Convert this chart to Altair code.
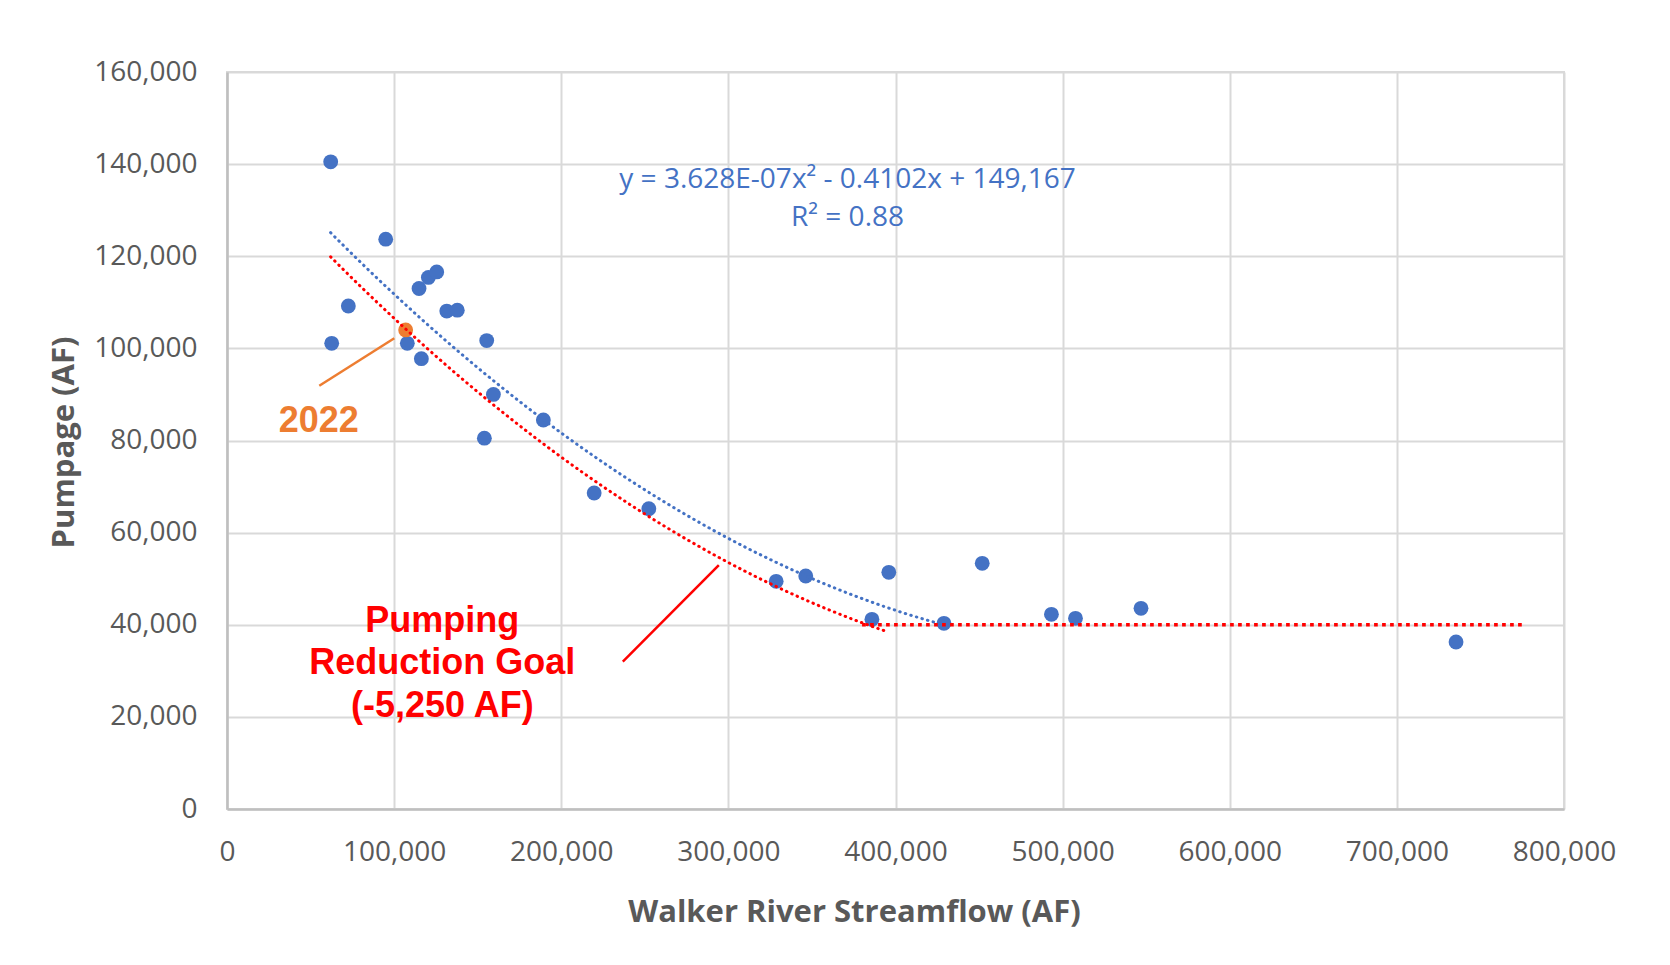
import altair as alt
import pandas as pd

# ---- data ----
flow_af = [62050, 94970, 72600, 62650, 107900, 116300, 114900, 120500, 125500,
           131500, 137800, 155400, 159400, 154000, 189300, 219700, 252400,
           328600, 346300, 396000, 385900, 429000, 451900, 493300, 507700,
           546900, 735400]
pumpage_af = [140500, 123700, 109200, 101100, 101100, 97760, 113000, 115400,
              116600, 108100, 108300, 101700, 90000, 80500, 84450, 68600, 65200,
              49430, 50580, 51380, 41180, 40310, 53330, 42260, 41400, 43570,
              36260]
flow_2022 = [106900]
pumpage_2022 = [104000]

x_ticks = [0, 100000, 200000, 300000, 400000, 500000, 600000, 700000, 800000]
y_ticks = [0, 20000, 40000, 60000, 80000, 100000, 120000, 140000, 160000]

# polynomial trendline as printed on the chart: y = a x^2 + b x + c
trend_a = 3.628e-07
trend_b = -0.4102
trend_c = 149167
trend_span = [62000, 429000]
goal_curve_span = [62000, 394000]
goal_reduction_af = 5250
goal_floor_af = 40000
goal_floor_span = [380000, 775000]

equation_lines = ["y = 3.628E-07x\u00b2 - 0.4102x + 149,167", "R\u00b2 = 0.88"]
equation_flow = [371300, 371300]
equation_pump = [134800, 126500]

label_2022 = ["2022"]
label_2022_flow = [54930]
label_2022_pump = [81910]
leader_2022_flow = [55230, 100110]
leader_2022_pump = [91900, 102190]

goal_text = ["Pumping\nReduction Goal\n(-5,250 AF)"]
goal_text_flow = [128830]
goal_text_pump = [38490]
leader_goal_flow = [236850, 294290]
leader_goal_pump = [31980, 52970]

BLUE = "#4472C4"
ORANGE = "#ED7D31"
RED = "#FF0000"

pts_df = pd.DataFrame({"flow": flow_af, "pump": pumpage_af})
p22_df = pd.DataFrame({"flow": flow_2022, "pump": pumpage_2022})
floor_df = pd.DataFrame({"flow": [goal_floor_span[0]], "flow2": [goal_floor_span[1]],
                         "pump": [goal_floor_af]})
eq_df = pd.DataFrame({"flow": equation_flow, "pump": equation_pump, "t": equation_lines})
l22_df = pd.DataFrame({"flow": label_2022_flow, "pump": label_2022_pump, "t": label_2022})
ld22_df = pd.DataFrame({"flow": [leader_2022_flow[0]], "flow2": [leader_2022_flow[1]],
                        "pump": [leader_2022_pump[0]], "pump2": [leader_2022_pump[1]]})
gt_df = pd.DataFrame({"flow": goal_text_flow, "pump": goal_text_pump, "t": goal_text})
ldg_df = pd.DataFrame({"flow": [leader_goal_flow[0]], "flow2": [leader_goal_flow[1]],
                       "pump": [leader_goal_pump[0]], "pump2": [leader_goal_pump[1]]})

x_enc = alt.X("flow:Q", title="Walker River Streamflow (AF)",
              scale=alt.Scale(domain=[0, 800000], nice=False, zero=False),
              axis=alt.Axis(values=x_ticks, format=",d", labelPadding=29,
                            labelFlush=False, labelOverlap=False,
                            titleX=627, titleY=112, titleBaseline="alphabetic",
                            titleAlign="center"))
y_enc = alt.Y("pump:Q", title="Pumpage (AF)",
              scale=alt.Scale(domain=[0, 160000], nice=False, zero=False),
              axis=alt.Axis(values=y_ticks, format=",d", labelPadding=30,
                            labelOverlap=False,
                            titleX=-154, titleY=370, titleAngle=270,
                            titleBaseline="alphabetic", titleAlign="center"))

points = alt.Chart(pts_df).mark_circle(size=220, color=BLUE, opacity=1).encode(x=x_enc, y=y_enc)
point22 = alt.Chart(p22_df).mark_circle(size=220, color=ORANGE, opacity=1).encode(x=x_enc, y=y_enc)

trend_expr = (f"{trend_a} * datum.flow * datum.flow + ({trend_b}) * datum.flow + {trend_c}")

trend = alt.Chart(alt.sequence(trend_span[0], trend_span[1], 1000, as_="flow")).transform_calculate(
    pump=trend_expr
).mark_line(color=BLUE, strokeWidth=3, strokeDash=[0.5, 5.3], strokeCap="round").encode(
    x=x_enc, y=y_enc)

goal_curve = alt.Chart(alt.sequence(goal_curve_span[0], goal_curve_span[1], 1000, as_="flow")).transform_calculate(
    pump=f"{trend_expr} - {goal_reduction_af}"
).mark_line(color=RED, strokeWidth=3, strokeDash=[0.5, 5.3], strokeCap="round").encode(
    x=x_enc, y=y_enc)

goal_floor = alt.Chart(floor_df).mark_rule(color=RED, strokeWidth=3.6, strokeDash=[3.7, 4.3]).encode(
    x=x_enc, x2="flow2:Q", y=y_enc)

eq_text = alt.Chart(eq_df).mark_text(font="Open Sans", fontSize=28, color=BLUE,
                                     align="center", baseline="alphabetic").encode(
    x=x_enc, y=y_enc, text="t:N")

t22 = alt.Chart(l22_df).mark_text(font="Liberation Sans", fontSize=36, fontWeight="bold",
                                  color=ORANGE, align="center", baseline="alphabetic").encode(
    x=x_enc, y=y_enc, text="t:N")
r22 = alt.Chart(ld22_df).mark_rule(color=ORANGE, strokeWidth=2.5).encode(
    x=x_enc, x2="flow2:Q", y=y_enc, y2="pump2:Q")

tgoal = alt.Chart(gt_df).mark_text(font="Liberation Sans", fontSize=36, fontWeight="bold",
                                   color=RED, align="center", baseline="alphabetic",
                                   lineBreak="\n", lineHeight=42.5).encode(
    x=x_enc, y=y_enc, text="t:N")
rgoal = alt.Chart(ldg_df).mark_rule(color=RED, strokeWidth=2.5).encode(
    x=x_enc, x2="flow2:Q", y=y_enc, y2="pump2:Q")

chart = alt.layer(
    points, point22, trend, goal_curve, goal_floor, eq_text, t22, r22, tgoal, rgoal
).properties(
    width=1337, height=737,
    autosize=alt.AutoSizeParams(type="none"),
    padding={"left": 219, "top": 64, "right": 90, "bottom": 140},
    background="white",
).configure_view(
    stroke="#D9D9D9", strokeWidth=2
).configure_axis(
    grid=True, gridColor="#D9D9D9", gridWidth=2,
    domainColor="#BFBFBF", domainWidth=2.5, ticks=False,
    labelFont="Open Sans", labelFontSize=28, labelColor="#595959",
    titleFont="Open Sans", titleFontSize=31, titleFontWeight="bold", titleColor="#595959",
)

chart.save("out.html", embed_options={"renderer": "svg", "actions": False})
